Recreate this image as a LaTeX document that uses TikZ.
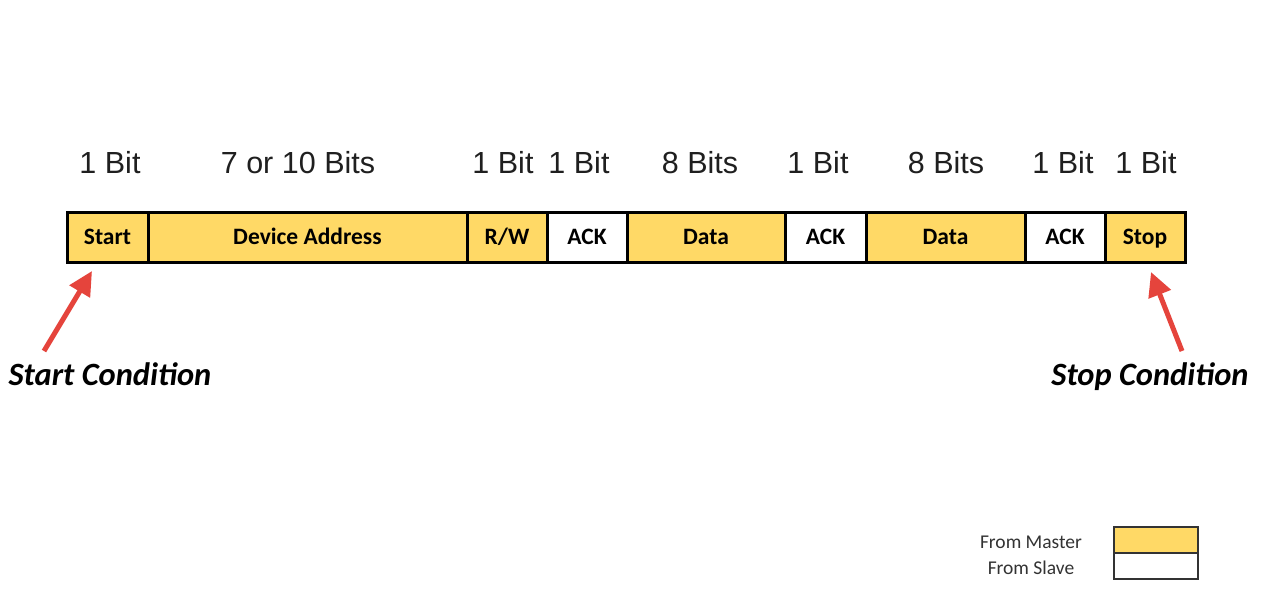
\documentclass[tikz,border=0pt]{standalone}
\usepackage{fontspec}
\setmainfont{Liberation Sans}
\newfontfamily\calfont{Carlito}
\usetikzlibrary{arrows.meta}
\definecolor{mgold}{HTML}{FFD966}
\definecolor{marrow}{HTML}{E5443C}
\definecolor{lgray}{HTML}{333333}
\tikzset{
  cell/.style={draw=black, line width=3pt, minimum height=50pt, inner sep=0pt,
    text height=15.5pt, text depth=0pt, yshift=-0pt,
    font=\calfont\bfseries\fontsize{23.5}{25}\selectfont},
  mcell/.style={cell, fill=mgold},
  scell/.style={cell, fill=white},
  bits/.style={font=\fontsize{30.5}{32}\selectfont, text=black!88, inner sep=0pt, anchor=base},
  cond/.style={font=\calfont\bfseries\itshape\fontsize{32.5}{34}\selectfont, inner sep=0pt, anchor=base},
  redarrow/.style={draw=marrow, line width=5pt, -{Triangle[length=24pt,width=23pt]}},
  legtext/.style={font=\calfont\fontsize{19.5}{21}\selectfont, text=lgray, inner sep=0pt, anchor=base},
  legbox/.style={draw=lgray, line width=1.5pt, minimum width=84pt, minimum height=26pt, inner sep=0pt}
}
\begin{document}
\begin{tikzpicture}[x=1pt,y=-1pt]
\useasboundingbox[fill=white] (0,0) rectangle (1267,614);
% cells
\node[mcell, minimum width=81pt]  (c1) at (107.5,237) {Start};
\node[mcell, minimum width=319pt] (c2) at (307.5,237) {Device Address};
\node[mcell, minimum width=80pt]  (c3) at (507,237) {R/W};
\node[scell, minimum width=80pt]  (c4) at (587,237) {ACK};
\node[mcell, minimum width=158pt] (c5) at (706,237) {Data};
\node[scell, minimum width=81pt]  (c6) at (825.5,237) {ACK};
\node[mcell, minimum width=159pt] (c7) at (945.5,237) {Data};
\node[scell, minimum width=80pt]  (c8) at (1065,237) {ACK};
\node[mcell, minimum width=80pt]  (c9) at (1145,237) {Stop};
% bit labels
\node[bits] (b1) at (110,173) {1 Bit};
\node[bits] (b2) at (298,173) {7 or 10 Bits};
\node[bits] (b3) at (503,173) {1 Bit};
\node[bits] (b4) at (579,173) {1 Bit};
\node[bits] (b5) at (700,173) {8 Bits};
\node[bits] (b6) at (818,173) {1 Bit};
\node[bits] (b7) at (946,173) {8 Bits};
\node[bits] (b8) at (1063,173) {1 Bit};
\node[bits] (b9) at (1146,173) {1 Bit};
% conditions
\node[cond] (sc) at (110,385) {Start Condition};
\node[cond] (pc) at (1150,385) {Stop Condition};
\coordinate (st) at (44,351);
\coordinate (sh) at (92,271);
\coordinate (pt) at (1182,351);
\coordinate (ph) at (1151,272);
\draw[redarrow] (st) -- (sh);
\draw[redarrow] (pt) -- (ph);
% legend
\node[legtext] (lm) at (1031,548) {From Master};
\node[legtext] (ls) at (1031,574) {From Slave};
\node[legbox, fill=mgold] (bm) at (1156,540) {};
\node[legbox, fill=white] (bs) at (1156,566) {};
\end{tikzpicture}
\end{document}
